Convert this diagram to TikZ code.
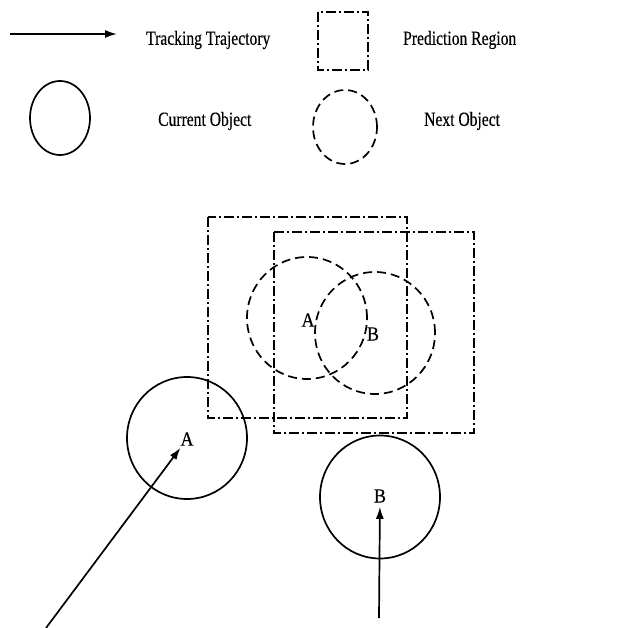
\documentclass[tikz,border=0pt]{standalone}
\usepackage{fontspec}
\usepackage{graphicx}
\setmainfont{Liberation Serif}
% slightly heavier strokes for the upright text
\newfontfamily\scanfont{Liberation Serif}[FakeBold=0.35]
\usetikzlibrary{arrows.meta,shapes.geometric}

% condensed text, as set in the figure
\newcommand{\legtext}[1]{\scalebox{0.78}[1]{\fontsize{20}{22}\scanfont #1}}
\newcommand{\objlabel}[1]{\scalebox{0.9}[1]{\fontsize{20}{22}\scanfont #1}}

\tikzset{
  obj/.style={draw, line width=1.7pt, ellipse, inner sep=0pt},
  nextobj/.style={obj, dash pattern=on 9pt off 5pt},
  region/.style={draw, line width=1.7pt, dash pattern=on 10pt off 3pt on 2pt off 3pt},
  traj/.style={line width=1.7pt, -{Latex[length=12pt,width=8pt]}},
  legendtxt/.style={anchor=west, inner sep=0pt},
  lbl/.style={inner sep=2pt}
}

\begin{document}
\begin{tikzpicture}[x=1pt, y=-1pt]
  \useasboundingbox (0,0) rectangle (623,628);

  % ---- legend ----
  \coordinate (legS) at (10,34);
  \coordinate (legE) at (117,34);
  \draw[traj] (legS) -- (legE);
  \node[legendtxt] (ltraj) at (146,40) {\legtext{Tracking Trajectory}};

  \draw[region] (318,12) rectangle (368,70);
  \node[legendtxt] (lreg) at (403,40) {\legtext{Prediction Region}};

  \node[obj, minimum width=60pt, minimum height=74pt] (lcur) at (60,118) {};
  \node[legendtxt] (lcurt) at (158,121) {\legtext{Current Object}};

  \node[nextobj, minimum width=64pt, minimum height=74pt] (lnext) at (345,127) {};
  \node[legendtxt] (lnextt) at (424,121) {\legtext{Next Object}};

  % ---- prediction regions ----
  \draw[region] (208,217) rectangle (407,418);
  \draw[region] (274,232) rectangle (474,433);

  % ---- predicted (next) objects ----
  \node[nextobj, minimum width=120pt, minimum height=122pt] (nA) at (307,318) {};
  \node[nextobj, minimum width=120pt, minimum height=122pt] (nB) at (375,333) {};
  \node[lbl] (nAl) at (308,320) {\objlabel{A}};
  \node[lbl] (nBl) at (373,334) {\objlabel{B}};

  % ---- current objects ----
  \node[obj, minimum width=120pt, minimum height=122pt] (cA) at (187,438) {};
  \node[obj, minimum width=120pt, minimum height=123pt] (cB) at (380,497) {};
  \node[lbl] (cAl) at (187,439) {\objlabel{A}};
  \node[lbl] (cBl) at (380,496) {\objlabel{B}};

  % ---- tracking trajectories ----
  \coordinate (tA) at (46,628);
  \coordinate (tB) at (379,618);
  \draw[traj] (tA) -- (cAl);
  \draw[traj, shorten >=2pt] (tB) -- (cBl);
\end{tikzpicture}
\end{document}
